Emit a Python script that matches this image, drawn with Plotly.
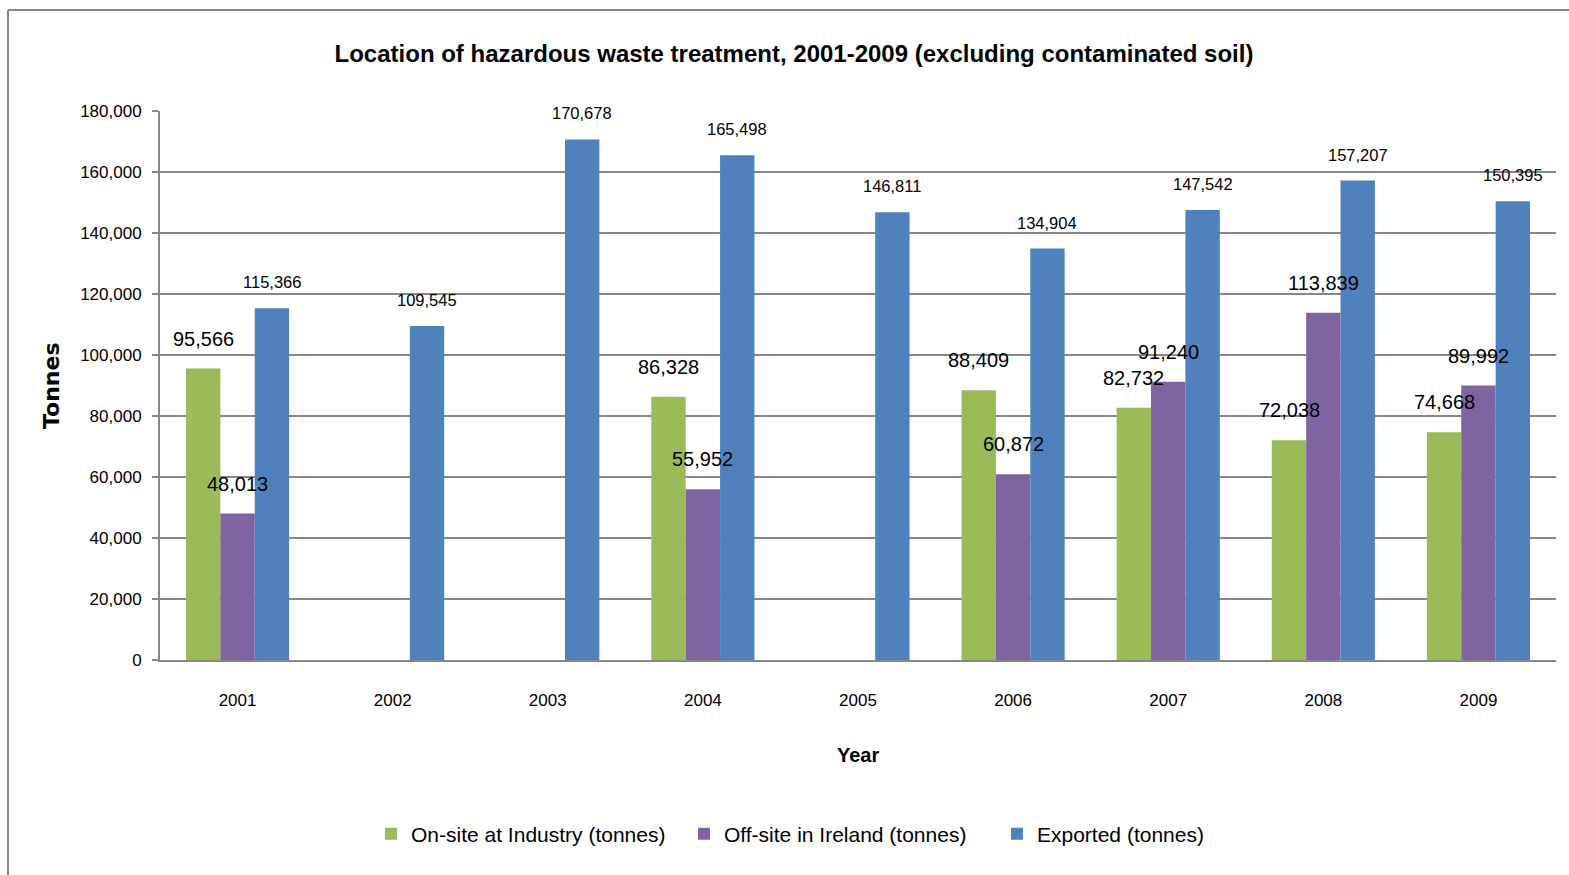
import plotly.graph_objects as go

years = ["2001", "2002", "2003", "2004", "2005", "2006", "2007", "2008", "2009"]
on_site = [95566, None, None, 86328, None, 88409, 82732, 72038, 74668]
off_site = [48013, None, None, 55952, None, 60872, 91240, 113839, 89992]
exported = [115366, 109545, 170678, 165498, 146811, 134904, 147542, 157207, 150395]

series_names = ["On-site at Industry (tonnes)", "Off-site in Ireland (tonnes)", "Exported (tonnes)"]
colors = ["#9BBB59", "#8064A2", "#4F81BD"]

FONT = "Liberation Sans"
GRID = "#878787"

fig = go.Figure()
for name, vals, col in zip(series_names, [on_site, off_site, exported], colors):
    fig.add_trace(go.Bar(x=years, y=vals, name=name, marker=dict(color=col, line=dict(width=0))))

# value labels above each bar (category index on the x axis, shifted to the bar's slot)
bar_px = 34.3
annotations = []
for i, (vals, size, lift) in enumerate([(on_site, 20, 30), (off_site, 20, 30), (exported, 16.5, 26)]):
    for idx, v in enumerate(vals):
        if v is None:
            continue
        annotations.append(dict(
            x=idx, y=v, xref="x", yref="y", text=f"{v:,}", showarrow=False,
            xshift=(i - 1) * bar_px, yshift=lift, yanchor="middle",
            font=dict(family=FONT, size=size, color="black"),
        ))

# axis titles
annotations.append(dict(text="<b>Year</b>", xref="paper", yref="paper", x=(858 - 160) / 1396,
                        y=(660 - 755) / 549, showarrow=False, yanchor="middle",
                        font=dict(family=FONT, size=20, color="black")))
annotations.append(dict(text="<b>Tonnes</b>", xref="paper", yref="paper", x=(51 - 160) / 1396,
                        y=(660 - 386) / 549, showarrow=False, textangle=-90, xanchor="center",
                        yanchor="middle", font=dict(family="DejaVu Sans", size=22, color="black")))

fig.update_layout(
    width=1569, height=875,
    margin=dict(l=160, r=13, t=111, b=215),
    paper_bgcolor="white", plot_bgcolor="white",
    barmode="group", bargap=0.335, bargroupgap=0,
    title=dict(text="<b>Location of hazardous waste treatment, 2001-2009 (excluding contaminated soil)</b>",
               x=794 / 1569, xanchor="center", y=1 - 54 / 875, yanchor="middle", yref="container",
               font=dict(family=FONT, size=24, color="black")),
    font=dict(family=FONT, color="black"),
    legend=dict(orientation="h", x=(371 - 160) / 1396, xanchor="left", y=(660 - 834) / 549,
                yanchor="middle", font=dict(family=FONT, size=21, color="black"),
                itemwidth=30, traceorder="normal", entrywidth=268, entrywidthmode="pixels"),
    annotations=annotations,
    shapes=[
        dict(type="line", xref="paper", yref="paper", x0=(8 - 160) / 1396, x1=(8 - 160) / 1396,
             y0=(660 - 10) / 549, y1=(660 - 900) / 549, line=dict(color=GRID, width=2)),
        dict(type="line", xref="paper", yref="paper", x0=(8 - 160) / 1396, x1=(1600 - 160) / 1396,
             y0=(660 - 10) / 549, y1=(660 - 10) / 549, line=dict(color=GRID, width=2)),
    ],
)

fig.update_yaxes(range=[0, 180000], dtick=20000, tickformat=",", showgrid=True, gridcolor=GRID,
                 gridwidth=1.5, showline=True, linecolor=GRID, linewidth=2, ticks="outside",
                 ticklen=6, tickcolor=GRID, tickwidth=2, ticklabelstandoff=7,
                 tickfont=dict(family=FONT, size=17, color="black"), zeroline=False)
fig.update_xaxes(type="category", range=[-0.5, len(years) - 0.5], showline=True, linecolor=GRID,
                 linewidth=2, ticks="", ticklabelstandoff=24,
                 tickfont=dict(family=FONT, size=17, color="black"))

fig.write_html("out.html")
